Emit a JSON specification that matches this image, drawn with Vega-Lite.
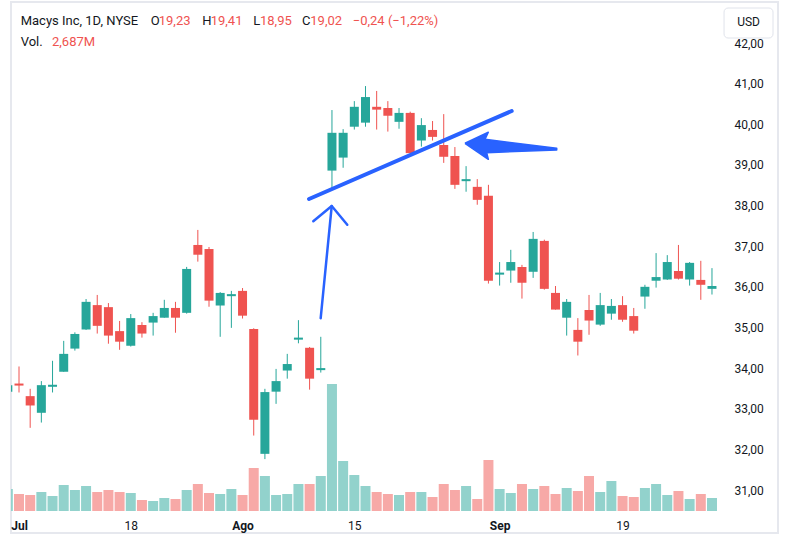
{
"$schema": "https://vega.github.io/schema/vega-lite/v6.json",
"width": 767, "height": 531,
"autosize": "none",
"padding": {"left": 11, "top": 2, "right": 11, "bottom": 15},
"background": "white",
"config": {"view": {"stroke": "#e6e8ee", "strokeWidth": 2}, "font": "Roboto"},
"datasets": {
"bars": [
{"d":"2022-06-30","i":-1,"o":33.42,"h":33.70,"l":33.30,"c":33.58,"v":3.3},
{"d":"2022-07-01","i":0,"o":33.62,"h":34.04,"l":33.40,"c":33.57,"v":2.55},
{"d":"2022-07-05","i":1,"o":33.31,"h":33.49,"l":32.53,"c":33.08,"v":2.4},
{"d":"2022-07-06","i":2,"o":32.90,"h":33.68,"l":32.66,"c":33.58,"v":2.85},
{"d":"2022-07-07","i":3,"o":33.54,"h":34.18,"l":33.40,"c":33.59,"v":2.25},
{"d":"2022-07-08","i":4,"o":33.91,"h":34.67,"l":33.91,"c":34.35,"v":3.9},
{"d":"2022-07-11","i":5,"o":34.48,"h":34.88,"l":34.43,"c":34.84,"v":3.15},
{"d":"2022-07-12","i":6,"o":34.95,"h":35.70,"l":34.94,"c":35.63,"v":3.75},
{"d":"2022-07-13","i":7,"o":35.55,"h":35.80,"l":34.85,"c":35.04,"v":2.85},
{"d":"2022-07-14","i":8,"o":35.50,"h":35.60,"l":34.60,"c":34.80,"v":3.15},
{"d":"2022-07-15","i":9,"o":34.91,"h":35.16,"l":34.45,"c":34.65,"v":2.85},
{"d":"2022-07-18","i":10,"o":34.55,"h":35.33,"l":34.53,"c":35.23,"v":2.7},
{"d":"2022-07-19","i":11,"o":35.06,"h":35.13,"l":34.75,"c":34.85,"v":1.65},
{"d":"2022-07-20","i":12,"o":35.12,"h":35.36,"l":34.80,"c":35.28,"v":1.5},
{"d":"2022-07-21","i":13,"o":35.24,"h":35.68,"l":35.24,"c":35.48,"v":1.95},
{"d":"2022-07-22","i":14,"o":35.48,"h":35.63,"l":34.87,"c":35.24,"v":1.8},
{"d":"2022-07-25","i":15,"o":35.36,"h":36.49,"l":35.34,"c":36.44,"v":3.15},
{"d":"2022-07-26","i":16,"o":37.03,"h":37.40,"l":36.62,"c":36.79,"v":4.05},
{"d":"2022-07-27","i":17,"o":36.93,"h":36.98,"l":35.51,"c":35.66,"v":2.7},
{"d":"2022-07-28","i":18,"o":35.54,"h":35.87,"l":34.77,"c":35.85,"v":2.55},
{"d":"2022-07-29","i":19,"o":35.77,"h":35.90,"l":34.99,"c":35.82,"v":3.3},
{"d":"2022-08-01","i":20,"o":35.90,"h":35.97,"l":35.22,"c":35.29,"v":2.4},
{"d":"2022-08-02","i":21,"o":34.96,"h":34.98,"l":32.34,"c":32.73,"v":6.45},
{"d":"2022-08-03","i":22,"o":31.89,"h":33.49,"l":31.76,"c":33.41,"v":5.25},
{"d":"2022-08-04","i":23,"o":33.42,"h":33.98,"l":33.12,"c":33.68,"v":2.4},
{"d":"2022-08-05","i":24,"o":33.94,"h":34.35,"l":33.74,"c":34.10,"v":2.55},
{"d":"2022-08-08","i":25,"o":34.70,"h":35.18,"l":34.61,"c":34.75,"v":4.05},
{"d":"2022-08-09","i":26,"o":34.50,"h":34.52,"l":33.47,"c":33.74,"v":4.05},
{"d":"2022-08-10","i":27,"o":33.95,"h":34.77,"l":33.89,"c":34.00,"v":5.25},
{"d":"2022-08-11","i":28,"o":38.86,"h":40.35,"l":38.38,"c":39.79,"v":19.05},
{"d":"2022-08-12","i":29,"o":39.18,"h":39.88,"l":38.93,"c":39.79,"v":7.5},
{"d":"2022-08-15","i":30,"o":39.94,"h":40.57,"l":39.87,"c":40.43,"v":5.4},
{"d":"2022-08-16","i":31,"o":40.04,"h":40.94,"l":39.94,"c":40.67,"v":3.75},
{"d":"2022-08-17","i":32,"o":40.43,"h":40.82,"l":39.87,"c":40.36,"v":2.85},
{"d":"2022-08-18","i":33,"o":40.40,"h":40.57,"l":39.82,"c":40.21,"v":2.55},
{"d":"2022-08-19","i":34,"o":40.06,"h":40.40,"l":39.89,"c":40.28,"v":2.4},
{"d":"2022-08-22","i":35,"o":40.28,"h":40.31,"l":39.29,"c":39.29,"v":2.85},
{"d":"2022-08-23","i":36,"o":39.60,"h":40.15,"l":39.45,"c":39.98,"v":2.85},
{"d":"2022-08-24","i":37,"o":39.86,"h":40.08,"l":39.60,"c":39.69,"v":2.1},
{"d":"2022-08-25","i":38,"o":39.49,"h":40.25,"l":39.05,"c":39.20,"v":4.05},
{"d":"2022-08-26","i":39,"o":39.22,"h":39.44,"l":38.41,"c":38.51,"v":3.15},
{"d":"2022-08-29","i":40,"o":38.60,"h":38.97,"l":38.34,"c":38.65,"v":3.75},
{"d":"2022-08-30","i":41,"o":38.46,"h":38.65,"l":38.02,"c":38.14,"v":1.8},
{"d":"2022-08-31","i":42,"o":38.24,"h":38.51,"l":36.08,"c":36.15,"v":7.65},
{"d":"2022-09-01","i":43,"o":36.30,"h":36.61,"l":36.03,"c":36.35,"v":3.3},
{"d":"2022-09-02","i":44,"o":36.40,"h":36.91,"l":36.10,"c":36.61,"v":2.7},
{"d":"2022-09-06","i":45,"o":36.49,"h":36.54,"l":35.71,"c":36.10,"v":4.05},
{"d":"2022-09-07","i":46,"o":36.37,"h":37.35,"l":36.22,"c":37.18,"v":3.3},
{"d":"2022-09-08","i":47,"o":37.13,"h":37.16,"l":35.93,"c":35.95,"v":3.75},
{"d":"2022-09-09","i":48,"o":35.85,"h":36.02,"l":35.44,"c":35.44,"v":2.55},
{"d":"2022-09-12","i":49,"o":35.24,"h":35.70,"l":34.80,"c":35.63,"v":3.45},
{"d":"2022-09-13","i":50,"o":34.94,"h":35.23,"l":34.31,"c":34.65,"v":3.0},
{"d":"2022-09-14","i":51,"o":35.43,"h":35.80,"l":34.82,"c":35.17,"v":5.25},
{"d":"2022-09-15","i":52,"o":35.07,"h":35.85,"l":35.04,"c":35.55,"v":2.85},
{"d":"2022-09-16","i":53,"o":35.34,"h":35.70,"l":35.19,"c":35.53,"v":4.5},
{"d":"2022-09-19","i":54,"o":35.55,"h":35.77,"l":35.14,"c":35.19,"v":2.25},
{"d":"2022-09-20","i":55,"o":35.28,"h":35.48,"l":34.85,"c":34.92,"v":2.1},
{"d":"2022-09-21","i":56,"o":35.76,"h":36.05,"l":35.46,"c":36.00,"v":3.45},
{"d":"2022-09-22","i":57,"o":36.15,"h":36.83,"l":35.98,"c":36.24,"v":4.05},
{"d":"2022-09-23","i":58,"o":36.18,"h":36.78,"l":36.17,"c":36.61,"v":2.4},
{"d":"2022-09-26","i":59,"o":36.39,"h":37.03,"l":36.18,"c":36.20,"v":3.0},
{"d":"2022-09-27","i":60,"o":36.18,"h":36.61,"l":36.03,"c":36.59,"v":1.8},
{"d":"2022-09-28","i":61,"o":36.17,"h":36.64,"l":35.68,"c":36.05,"v":2.55},
{"d":"2022-09-29","i":62,"o":35.95,"h":36.46,"l":35.81,"c":36.02,"v":1.95}
],
"draw": [
{"s":"trend","k":0,"i":25.95,"p":38.161},
{"s":"trend","k":1,"i":44.08,"p":40.327},
{"s":"shaft","k":0,"i":26.99,"p":35.226},
{"s":"shaft","k":1,"i":27.98,"p":37.989},
{"s":"head","k":0,"i":26.33,"p":37.613},
{"s":"head","k":1,"i":27.98,"p":37.989},
{"s":"head","k":2,"i":29.37,"p":37.529},
{"s":"larrow","k":0,"i":39.90,"p":39.532},
{"s":"larrow","k":1,"i":41.99,"p":39.803},
{"s":"larrow","k":2,"i":41.69,"p":39.630},
{"s":"larrow","k":3,"i":48.11,"p":39.409},
{"s":"larrow","k":4,"i":48.11,"p":39.367},
{"s":"larrow","k":5,"i":41.84,"p":39.301},
{"s":"larrow","k":6,"i":41.99,"p":39.138},
{"s":"larrow","k":7,"i":39.90,"p":39.532}
]
},
"data": {"name": "bars"},
"resolve": {"scale": {"y": "independent"}},
"layer": [
{
"mark": {"type": "bar", "size": 10, "clip": true},
"encoding": {
"x": {"field": "i", "type": "quantitative",
"scale": {"domain": [-0.716, 67.907], "nice": false, "zero": false, "padding": 0},
"axis": {"values": [0, 10, 20, 30, 43, 54],
"labelExpr": "datum.value==0?'Jul':datum.value==10?'18':datum.value==20?'Ago':datum.value==30?'15':datum.value==43?'Sep':'19'",
"labelFontWeight": {"condition": {"test": "datum.value==0||datum.value==20||datum.value==43", "value": "bold"}, "value": "normal"},
"offset": -22, "ticks": false, "tickSize": 0, "domain": false, "grid": false, "title": null,
"labelPadding": 9, "labelFontSize": 12, "labelColor": "#131722", "labelFlush": false, "labelOverlap": false, "zindex": 0}},
"y": {"field": "v", "type": "quantitative", "scale": {"domain": [-3.3, 76.35], "nice": false, "zero": false}, "axis": null},
"y2": {"datum": 0},
"color": {"condition": {"test": "datum.c >= datum.o", "value": "#92d2cc"}, "value": "#f7a9a7"}
}
},
{
"layer": [
{
"mark": {"type": "rule", "clip": true, "strokeWidth": 1},
"encoding": {
"x": {"field": "i", "type": "quantitative"},
"y": {"field": "l", "type": "quantitative",
"scale": {"domain": [29.942, 43.009], "nice": false, "zero": false},
"axis": {"orient": "right", "offset": -58, "values": [31,32,33,34,35,36,37,38,39,40,41,42],
"labelExpr": "replace(format(datum.value, '.2f'), '.', ',')",
"ticks": false, "tickSize": 0, "domain": false, "grid": false, "title": null,
"labelPadding": 14, "labelFontSize": 12, "labelColor": "#131722", "zindex": 0}},
"y2": {"field": "h"},
"color": {"condition": {"test": "datum.c >= datum.o", "value": "#26a69a"}, "value": "#ef5350"}
}
},
{
"mark": {"type": "bar", "size": 9, "clip": true},
"encoding": {
"x": {"field": "i", "type": "quantitative"},
"y": {"field": "o", "type": "quantitative"},
"y2": {"field": "c"},
"color": {"condition": {"test": "datum.c >= datum.o", "value": "#26a69a"}, "value": "#ef5350"}
}
},
{
"data": {"name": "draw"},
"transform": [{"filter": "datum.s == 'trend'"}],
"mark": {"type": "line", "color": "#2962ff", "strokeWidth": 4, "strokeCap": "round"},
"encoding": {
"x": {"field": "i", "type": "quantitative"},
"y": {"field": "p", "type": "quantitative"},
"order": {"field": "k"}
}
},
{
"data": {"name": "draw"},
"transform": [{"filter": "datum.s == 'shaft' || datum.s == 'head'"}],
"mark": {"type": "line", "color": "#2962ff", "strokeWidth": 2.5, "strokeCap": "round", "strokeJoin": "round"},
"encoding": {
"x": {"field": "i", "type": "quantitative"},
"y": {"field": "p", "type": "quantitative"},
"detail": {"field": "s"},
"order": {"field": "k"}
}
},
{
"data": {"name": "draw"},
"transform": [{"filter": "datum.s == 'larrow'"}],
"mark": {"type": "line", "color": "#2962ff", "fill": "#2962ff", "strokeWidth": 1.5, "strokeJoin": "round"},
"encoding": {
"x": {"field": "i", "type": "quantitative"},
"y": {"field": "p", "type": "quantitative"},
"order": {"field": "k"}
}
},
{"data": {"values": [{}]}, "mark": {"type": "text", "text": "Macys Inc, 1D, NYSE", "align": "left", "baseline": "middle", "fontSize": 13, "color": "#131722"},
"encoding": {"x": {"datum": 0.152}, "y": {"datum": 42.549}}},
{"data": {"values": [{}]}, "mark": {"type": "text", "text": "O", "align": "left", "baseline": "middle", "fontSize": 13, "color": "#131722"},
"encoding": {"x": {"datum": 11.78}, "y": {"datum": 42.549}}},
{"data": {"values": [{}]}, "mark": {"type": "text", "text": "19,23", "align": "left", "baseline": "middle", "fontSize": 13, "color": "#ef5350"},
"encoding": {"x": {"datum": 12.50}, "y": {"datum": 42.549}}},
{"data": {"values": [{}]}, "mark": {"type": "text", "text": "H", "align": "left", "baseline": "middle", "fontSize": 13, "color": "#131722"},
"encoding": {"x": {"datum": 16.40}, "y": {"datum": 42.549}}},
{"data": {"values": [{}]}, "mark": {"type": "text", "text": "19,41", "align": "left", "baseline": "middle", "fontSize": 13, "color": "#ef5350"},
"encoding": {"x": {"datum": 17.15}, "y": {"datum": 42.549}}},
{"data": {"values": [{}]}, "mark": {"type": "text", "text": "L", "align": "left", "baseline": "middle", "fontSize": 13, "color": "#131722"},
"encoding": {"x": {"datum": 20.96}, "y": {"datum": 42.549}}},
{"data": {"values": [{}]}, "mark": {"type": "text", "text": "18,95", "align": "left", "baseline": "middle", "fontSize": 13, "color": "#ef5350"},
"encoding": {"x": {"datum": 21.56}, "y": {"datum": 42.549}}},
{"data": {"values": [{}]}, "mark": {"type": "text", "text": "C", "align": "left", "baseline": "middle", "fontSize": 13, "color": "#131722"},
"encoding": {"x": {"datum": 25.32}, "y": {"datum": 42.549}}},
{"data": {"values": [{}]}, "mark": {"type": "text", "text": "19,02", "align": "left", "baseline": "middle", "fontSize": 13, "color": "#ef5350"},
"encoding": {"x": {"datum": 26.06}, "y": {"datum": 42.549}}},
{"data": {"values": [{}]}, "mark": {"type": "text", "text": "−0,24 (−1,22%)", "align": "left", "baseline": "middle", "fontSize": 13, "color": "#ef5350"},
"encoding": {"x": {"datum": 29.86}, "y": {"datum": 42.549}}},
{"data": {"values": [{}]}, "mark": {"type": "text", "text": "Vol.", "align": "left", "baseline": "middle", "fontSize": 13, "color": "#131722"},
"encoding": {"x": {"datum": 0.152}, "y": {"datum": 42.032}}},
{"data": {"values": [{}]}, "mark": {"type": "text", "text": "2,687M", "align": "left", "baseline": "middle", "fontSize": 13, "color": "#ef5350"},
"encoding": {"x": {"datum": 2.95}, "y": {"datum": 42.032}}},
{"data": {"values": [{}]}, "mark": {"type": "rect", "fill": "white", "stroke": "#e0e3eb", "strokeWidth": 1, "cornerRadius": 4},
"encoding": {"x": {"datum": 63.08}, "x2": {"datum": 67.46}, "y": {"datum": 42.861}, "y2": {"datum": 42.123}}},
{"data": {"values": [{}]}, "mark": {"type": "text", "text": "USD", "align": "center", "baseline": "middle", "fontSize": 12, "color": "#131722"},
"encoding": {"x": {"datum": 65.27}, "y": {"datum": 42.52}}}
]
}
]
}
